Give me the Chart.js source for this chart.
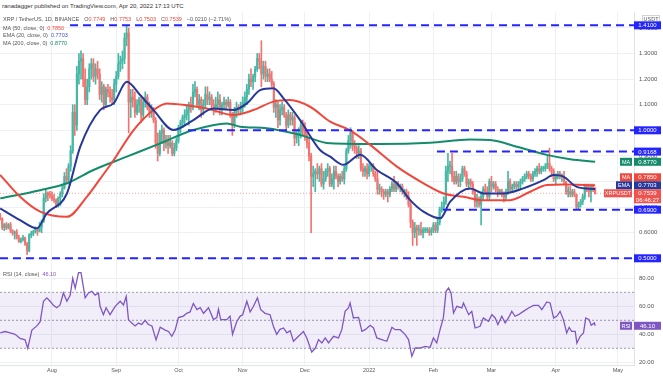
<!DOCTYPE html>
<html>
<head>
<meta charset="utf-8">
<title>XRP / TetherUS 1D</title>
<script src="https://cdn.jsdelivr.net/npm/chart.js@4.4.1/dist/chart.umd.min.js"></script>
<style>
  html, body { margin: 0; padding: 0; background: #fff; }
  body { width: 663px; height: 376px; position: relative; overflow: hidden; font-family: "Liberation Sans", Arial, sans-serif; }
  canvas { position: absolute; left: 0; }
  #priceChart { top: 12px; }
  #rsiChart { top: 266px; }
  .t { position: absolute; left: 3px; white-space: nowrap; height: 8px; line-height: 8px; color: #555; font-size: 5.5px; z-index: 2; }
  .t span.v { margin-left: 3px; }
  .t span.k { margin-left: 5px; color: #555; }
  .red { color: #f0473c; }
  .blue { color: #3b55c8; }
  .green { color: #148c6c; }
  .purple { color: #7e57c2; }
</style>
</head>
<body>
<div class="t" style="top:2px;left:2px;font-size:6px;color:#333">ranadagger published on TradingView.com, Apr 20, 2022 17:13 UTC</div>
<div class="t" style="top:15px">XRP / TetherUS, 1D, BINANCE<span class="k">O</span><span class="red">0.7749</span><span class="k">H</span><span class="red">0.7753</span><span class="k">L</span><span class="red">0.7503</span><span class="k">C</span><span class="red">0.7539</span><span class="k red">&minus;0.0210 (&minus;2.71%)</span></div>
<div class="t" style="top:23.5px">MA (50, close, 0)<span class="v red">0.7850</span></div>
<div class="t" style="top:31.3px">EMA (20, close, 0)<span class="v blue">0.7703</span></div>
<div class="t" style="top:39.3px">MA (200, close, 0)<span class="v green">0.8770</span></div>
<div class="t" style="top:270px">RSI (14, close)<span class="v purple">46.10</span></div>

<canvas id="priceChart" width="663" height="254"></canvas>
<canvas id="rsiChart" width="663" height="110"></canvas>

<script>
// day 0 = 2021-07-07, one candle per day up to 2022-04-20 (day 287)
const monthTicks = [25, 56, 86, 117, 147, 178, 209, 237, 268, 298];
const monthLabels = ["Aug", "Sep", "Oct", "Nov", "Dec", "2022", "Feb", "Mar", "Apr", "May"];
const priceTicks = [0.5, 0.6, 0.7, 0.8, 0.9, 1.0, 1.1, 1.2, 1.3, 1.4];
const rsiTicks = [20, 40, 60, 80];

const opens = [
  // Jul
  .668,.655,.620,.632,.618,.631,.607,.598,.603,.580,.566,.573,.580,.555,.530,.590,.598,.605,.614,.606,.622,.645,.735,.755,.748,
  // Aug
  .745,.732,.728,.710,.735,.752,.775,.820,.805,.86,.92,1.07,1.02,1.22,1.27,1.28,1.20,1.12,1.17,1.24,1.26,1.21,1.24,1.22,1.14,1.17,1.10,1.16,1.15,1.13,1.12,
  // Sep
  1.18,1.21,1.26,1.27,1.28,1.36,1.38,1.11,1.13,1.12,1.07,1.10,1.12,1.06,1.11,1.13,1.09,1.07,1.08,1.04,.95,.91,.99,1.00,.95,.96,.94,.95,.91,.93,
  // Oct
  .96,1.01,1.03,1.05,1.06,1.08,1.10,1.09,1.15,1.16,1.10,1.12,1.08,1.10,1.14,1.12,1.13,1.10,1.09,1.10,1.12,1.08,1.10,1.11,1.10,1.11,1.06,1.02,1.07,1.09,1.08,
  // Nov
  1.09,1.11,1.13,1.16,1.20,1.19,1.21,1.24,1.28,1.27,1.22,1.25,1.21,1.22,1.20,1.18,1.09,1.10,1.04,1.08,1.09,1.06,1.02,1.06,1.04,1.05,.97,.98,.99,1.02,
  // Dec
  1.00,.98,.95,.90,.82,.83,.84,.83,.85,.79,.81,.84,.85,.79,.81,.84,.82,.80,.82,.81,.85,.92,.96,.99,.94,.93,.91,.92,.85,.84,.85,
  // Jan
  .83,.86,.86,.83,.81,.77,.77,.76,.75,.76,.75,.77,.79,.77,.79,.78,.78,.76,.76,.74,.71,.64,.60,.62,.61,.61,.60,.61,.61,.61,.60,
  // Feb
  .61,.63,.61,.64,.69,.70,.72,.84,.86,.86,.82,.80,.82,.80,.81,.85,.83,.79,.80,.79,.76,.72,.73,.71,.74,.77,.76,.74,
  // Mar
  .80,.78,.79,.77,.76,.76,.75,.74,.76,.80,.77,.78,.79,.78,.79,.80,.81,.82,.83,.82,.81,.83,.84,.85,.84,.85,.85,.86,.87,.85,.84,
  // Apr
  .81,.82,.83,.82,.82,.80,.76,.76,.75,.76,.75,.70,.71,.72,.74,.78,.77,.76,.78,.7749
];
const highs = [
  .676,.658,.636,.640,.636,.640,.612,.607,.612,.590,.580,.590,.583,.562,.596,.606,.610,.623,.616,.640,.650,.752,.770,.760,.762,
  .760,.750,.732,.740,.760,.790,.835,.850,.870,.94,1.10,1.10,1.25,1.30,1.31,1.30,1.24,1.20,1.26,1.28,1.28,1.26,1.27,1.24,1.19,1.18,1.17,1.18,1.17,1.16,1.20,
  1.23,1.30,1.29,1.31,1.38,1.41,1.40,1.16,1.16,1.15,1.12,1.13,1.13,1.12,1.15,1.14,1.11,1.10,1.09,1.05,.99,1.00,1.02,1.01,.98,.98,.98,.96,.95,.97,
  1.02,1.04,1.06,1.08,1.10,1.11,1.13,1.18,1.19,1.17,1.14,1.13,1.12,1.17,1.17,1.15,1.14,1.12,1.13,1.15,1.14,1.11,1.13,1.12,1.13,1.12,1.07,1.09,1.11,1.10,1.11,
  1.13,1.15,1.18,1.22,1.24,1.22,1.25,1.30,1.30,1.35,1.27,1.27,1.24,1.24,1.23,1.19,1.12,1.11,1.10,1.11,1.10,1.07,1.08,1.07,1.07,1.06,1.00,1.01,1.04,1.04,
  1.03,1.00,.97,.91,.86,.85,.87,.86,.87,.84,.85,.87,.86,.83,.86,.86,.83,.83,.84,.86,.93,.98,1.01,1.00,.96,.94,.94,.93,.87,.86,.87,
  .87,.87,.87,.84,.84,.79,.78,.77,.77,.77,.78,.80,.82,.80,.80,.79,.79,.77,.77,.76,.72,.65,.64,.63,.63,.64,.62,.62,.62,.62,.62,
  .64,.64,.66,.70,.72,.74,.86,.91,.88,.91,.84,.84,.83,.83,.86,.86,.84,.81,.81,.80,.77,.75,.74,.76,.78,.79,.78,.81,
  .82,.80,.80,.78,.77,.77,.76,.77,.84,.81,.79,.80,.80,.80,.81,.82,.83,.84,.84,.83,.84,.85,.86,.87,.86,.86,.87,.90,.93,.86,.85,
  .83,.84,.84,.83,.84,.80,.78,.78,.77,.77,.75,.72,.73,.75,.79,.79,.79,.79,.79,.7753
];
const lows = [
  .650,.612,.608,.612,.615,.600,.590,.575,.575,.562,.560,.567,.550,.514,.525,.580,.588,.598,.590,.603,.600,.640,.720,.725,.735,
  .725,.718,.698,.700,.705,.740,.770,.790,.790,.84,.91,.98,1.00,1.18,1.20,1.17,1.10,1.10,1.15,1.20,1.19,1.18,1.20,1.12,1.11,1.08,1.09,1.13,1.11,1.10,1.10,
  1.15,1.20,1.23,1.24,1.26,1.33,.99,1.05,1.09,1.05,1.06,1.07,1.03,1.04,1.09,1.08,1.05,1.05,1.03,.93,.88,.90,.95,.92,.93,.91,.93,.90,.90,.92,
  .95,.99,1.01,1.02,1.04,1.02,1.07,1.08,1.13,1.09,1.08,1.05,1.06,1.09,1.10,1.10,1.08,1.06,1.07,1.08,1.06,1.06,1.08,1.08,1.09,1.05,.98,1.01,1.05,1.06,1.06,
  1.07,1.09,1.10,1.14,1.17,1.16,1.19,1.23,1.24,1.17,1.20,1.19,1.19,1.19,1.17,1.07,1.05,1.01,1.02,1.06,1.05,1.00,1.01,1.02,1.02,.94,.95,.94,.97,.98,
  .96,.93,.88,.60,.78,.76,.81,.80,.78,.77,.80,.82,.78,.78,.77,.81,.78,.79,.80,.79,.84,.91,.93,.92,.91,.89,.89,.84,.82,.82,.81,
  .82,.84,.82,.80,.75,.75,.74,.73,.74,.72,.74,.76,.76,.76,.77,.76,.75,.74,.73,.70,.62,.55,.58,.55,.59,.59,.58,.60,.60,.59,.59,
  .60,.60,.60,.63,.68,.69,.71,.80,.83,.80,.79,.79,.78,.78,.80,.82,.78,.77,.78,.75,.70,.70,.70,.63,.73,.75,.73,.73,
  .76,.77,.76,.74,.75,.74,.72,.73,.75,.76,.76,.77,.77,.77,.77,.79,.80,.81,.81,.80,.80,.82,.82,.83,.83,.84,.84,.85,.84,.82,.80,
  .79,.81,.81,.80,.79,.75,.74,.74,.74,.74,.69,.69,.70,.71,.73,.76,.74,.72,.76,.7503
];
const closes = [
  .655,.620,.632,.618,.631,.607,.598,.603,.580,.566,.573,.580,.555,.530,.590,.598,.605,.614,.606,.622,.645,.735,.755,.748,.745,
  .732,.728,.710,.735,.752,.775,.820,.805,.86,.92,1.07,1.02,1.22,1.27,1.28,1.20,1.12,1.17,1.24,1.26,1.21,1.24,1.22,1.14,1.17,1.10,1.16,1.15,1.13,1.12,1.18,
  1.21,1.26,1.27,1.28,1.36,1.38,1.11,1.13,1.12,1.07,1.10,1.12,1.06,1.11,1.13,1.09,1.07,1.08,1.04,.95,.91,.99,1.00,.95,.96,.94,.95,.91,.93,.96,
  1.01,1.03,1.05,1.06,1.08,1.10,1.09,1.15,1.16,1.10,1.12,1.08,1.10,1.14,1.12,1.13,1.10,1.09,1.10,1.12,1.08,1.10,1.11,1.10,1.11,1.06,1.02,1.07,1.09,1.08,1.09,
  1.11,1.13,1.16,1.20,1.19,1.21,1.24,1.28,1.27,1.22,1.25,1.21,1.22,1.20,1.18,1.09,1.10,1.04,1.08,1.09,1.06,1.02,1.06,1.04,1.05,.97,.98,.99,1.02,1.00,
  .98,.95,.90,.82,.83,.84,.83,.85,.79,.81,.84,.85,.79,.81,.84,.82,.80,.82,.81,.85,.92,.96,.99,.94,.93,.91,.92,.85,.84,.85,.83,
  .86,.86,.83,.81,.77,.77,.76,.75,.76,.75,.77,.79,.77,.79,.78,.78,.76,.76,.74,.71,.64,.60,.62,.61,.61,.60,.61,.61,.61,.60,.61,
  .63,.61,.64,.69,.70,.72,.84,.86,.86,.82,.80,.82,.80,.81,.85,.83,.79,.80,.79,.76,.72,.73,.71,.74,.77,.76,.74,.80,
  .78,.79,.77,.76,.76,.75,.74,.76,.80,.77,.78,.79,.78,.79,.80,.81,.82,.83,.82,.81,.83,.84,.85,.84,.85,.85,.86,.87,.85,.84,.81,
  .82,.83,.82,.82,.80,.76,.76,.75,.76,.75,.70,.71,.72,.74,.78,.77,.76,.78,.7749,.7539
];

// indicator lines (day, value)
const ema20Days = [0,9.6,17.7,22.5,32.2,38.6,48.2,54.7,61.1,67.5,74,83.6,93.2,102.9,112.5,119,125.4,131.8,136.7,144.7,154.3,159.2,165.6,173.7,181.7,191.4,197.8,204.2,212.3,217.1,226.7,233.2,242.8,252.4,262.1,266.9,271.7,278.2,287];
const ema20Vals = [0.695,0.649,0.617,0.675,0.753,0.935,1.079,1.105,1.19,1.138,1.079,1.001,1.04,1.085,1.079,1.105,1.157,1.164,1.125,1.04,0.923,0.897,0.865,0.904,0.845,0.793,0.727,0.682,0.656,0.721,0.773,0.753,0.753,0.773,0.805,0.825,0.819,0.779,0.7703];
const ma50Days = [0,9.6,19.3,32.2,41.8,48.2,54.7,64.3,74,80.4,90,99.7,112.5,122.2,131.8,139.9,149.5,159.2,168.8,178.5,191.4,204.2,213.9,223.5,233.2,246,255.7,263.7,271.7,287];
const ma50Vals = [0.826,0.74,0.682,0.662,0.74,0.81,0.883,1.0,1.079,1.105,1.098,1.085,1.06,1.079,1.112,1.118,1.092,1.034,1.0,0.943,0.858,0.793,0.753,0.74,0.727,0.727,0.76,0.786,0.788,0.785];
const ma200Days = [0,19.3,32.2,45,61.1,77.2,93.2,109.3,115.8,128.6,144.7,159.2,183.3,207.4,226.7,236.4,249.2,263.7,275,287];
const ma200Vals = [0.734,0.766,0.793,0.845,0.897,0.949,1.001,1.027,1.014,1.008,0.982,0.949,0.946,0.951,0.964,0.962,0.936,0.904,0.887,0.877];

// horizontal levels drawn by the author
const levelPrices = [1.41, 1.0, 0.9168, 0.69, 0.5];
const levelStartDays = [33.7, 90.6, 210.7, 213.6, -0.1];

const rsiDays = [0,2.4,4.8,7.2,9.6,12,13.3,15.3,17.7,19.3,20.9,22.5,24.1,25.7,27.3,28.9,30.5,32.2,33.8,35,36.2,37.8,39,41,42.6,44.2,45.8,47.4,48.2,49.8,51.1,53,55.5,57.9,59.5,60.8,61.9,63.5,65.1,66.7,68.3,69.9,71.5,73.2,75.2,77.2,79.6,81.2,82.8,84.4,86,88.4,90,91.6,93.2,94.9,96.5,98.1,100.5,102.9,104.5,105.3,106.4,109.3,110.9,112.1,114.1,115.8,117,119,120.6,122.2,124.1,125.7,127.8,130.2,131.8,133.4,135,136.7,138.3,139.9,141.5,143.9,146.3,147.9,150.3,152,153.6,155.2,156.8,158.4,160.8,163.2,164.8,166.4,168,168.8,170.4,172.9,174.5,176.1,178.5,180.1,181.7,184.1,186.5,189,190.5,193,195.4,197,198.6,200.2,202.6,205,207.4,209,210.6,212.2,213.8,215.1,216.3,217.5,218.7,220.3,222.7,223.5,226,227.5,229.1,231.5,233.1,235.6,237.2,238.8,240.1,242,243.6,245.2,246.8,248.4,250,252.4,254.9,257.3,259.7,261.3,263.7,265.3,267,268.5,270.1,271.7,273.3,274.5,275.7,277.4,278.2,279.8,281.4,282.5,284.1,285.1,286.7,287];
const rsiVals = [41,42,41,40,37,36,30,43,46,49,63.6,66,63.6,60.7,59,61,69.5,63.6,68,80,73,84,84,66,69.5,70.7,68,69.5,60,54,59,54,60,63.6,61,67,50.5,48,46,48,47,50,47,46,36,45,43,42,38.6,43,52,53,55,56,62,57.6,59,55,59,50.5,52,58,50.5,50.5,53,40,49,53,54,63.6,56,60,66,57.6,55,54,45.7,40,43.5,44.5,41,42.6,35,38.6,42,37.4,27.4,30,36.2,33.8,37.4,33.8,38.6,37.4,43.3,56.4,58.8,62.4,51.7,52.1,42.1,43.3,46.4,44.5,37.4,36.2,35,45,43.3,43.3,39.8,36.2,24.3,30.2,30.2,31.4,30.7,37.4,33.8,43.3,51.7,70.7,73.1,69.5,55.2,60,58.8,62.4,54,56.4,44.5,45.7,51.7,49.3,54,51.7,46.9,52.9,48.1,51.7,56.4,52.9,54,56.4,58.8,60.7,60.7,57.6,63.1,62.4,51.7,52.9,56.4,50.5,41,45,42.1,42.1,33.8,38.6,41,51.7,50.5,46.4,48.1,46.1];
const rsiLevels = [70, 50, 30];

// ---------------------------------------------------------------
const X_MIN = -0.08, X_MAX = 305.76;
const GREEN = '#45b8a6', RED = '#f27471', LEVEL_BLUE = '#2424ff';
const GRID = '#eef0f4', AXIS_TEXT = '#555';
const FONT = '"Liberation Sans", Arial, sans-serif';

Chart.defaults.font.family = FONT;
Chart.defaults.animation = false;

const pts = (days, vals) => days.map((d, i) => ({ x: d, y: vals[i] }));
const candleColors = closes.map((c, i) => c >= opens[i] ? GREEN : RED);
const lastClose = closes[closes.length - 1];

function noPad(s) { s.paddingTop = 0; s.paddingBottom = 0; s.paddingLeft = 0; s.paddingRight = 0; }

function box(ctx, x, y, w, h, bg, text, fg) {
  ctx.fillStyle = bg;
  ctx.fillRect(x, y - h / 2, w, h);
  ctx.fillStyle = fg || '#fff';
  ctx.fillText(text, x + w / 2, y + 0.5);
}

const priceAxisBoxes = {
  id: 'priceAxisBoxes',
  afterDraw(chart) {
    const { ctx } = chart;
    const ys = chart.scales.y;
    const x0 = ys.left;
    ctx.save();
    ctx.textAlign = 'center';
    ctx.textBaseline = 'middle';
    ctx.font = '5.5px ' + FONT;

    // currency tag
    ctx.fillStyle = '#fff';
    ctx.strokeStyle = '#cfd2da';
    ctx.lineWidth = 1;
    ctx.fillRect(x0 + 8.5, 3.5, 17, 7);
    ctx.strokeRect(x0 + 8.5, 3.5, 17, 7);
    ctx.fillStyle = AXIS_TEXT;
    ctx.fillText('USDT', x0 + 17, 7.3);

    ctx.font = '6px ' + FONT;
    levelPrices.forEach(p => box(ctx, x0, ys.getPixelForValue(p), 27, 8, LEVEL_BLUE, p.toFixed(4)));

    const ema = ema20Vals[ema20Vals.length - 1];
    const ma50 = ma50Vals[ma50Vals.length - 1];
    const ma200 = ma200Vals[ma200Vals.length - 1];
    const pY = ys.getPixelForValue(lastClose);
    const emaY = Math.min(ys.getPixelForValue(ema), pY - 8);
    const ma50Y = Math.min(ys.getPixelForValue(ma50), emaY - 8);
    const ma200Y = Math.min(ys.getPixelForValue(ma200), ma50Y - 8);

    box(ctx, x0, ma200Y, 27, 8, '#148c6c', ma200.toFixed(4));
    box(ctx, x0, ma50Y, 27, 8, '#f0473c', ma50.toFixed(4));
    box(ctx, x0, emaY, 27, 8, '#27379a', ema.toFixed(4));
    ctx.fillStyle = '#ef5350';
    ctx.fillRect(x0, pY - 4, 27, 14);
    ctx.fillStyle = '#fff';
    ctx.fillText(lastClose.toFixed(4), x0 + 13.5, pY + 0.5);
    ctx.fillText('06:46:27', x0 + 13.5, pY + 6.8);

    ctx.font = '5.5px ' + FONT;
    box(ctx, x0 - 14, ma200Y, 12, 8, '#148c6c', 'MA');
    box(ctx, x0 - 14, ma50Y, 12, 8, '#f0473c', 'MA');
    box(ctx, x0 - 18, emaY, 16, 8, '#27379a', 'EMA');
    box(ctx, x0 - 30, pY, 28, 8, '#ef5350', 'XRPUSDT');
    ctx.restore();
  }
};

const rsiAxisBoxes = {
  id: 'rsiAxisBoxes',
  afterDraw(chart) {
    const { ctx } = chart;
    const ys = chart.scales.y;
    const x0 = ys.left;
    const v = rsiVals[rsiVals.length - 1];
    const py = ys.getPixelForValue(v);
    ctx.save();
    ctx.textAlign = 'center';
    ctx.textBaseline = 'middle';
    ctx.font = '6px ' + FONT;
    box(ctx, x0, py, 27, 8, '#7e57c2', v.toFixed(2));
    ctx.font = '5.5px ' + FONT;
    box(ctx, x0 - 14, py, 12, 8, '#7e57c2', 'RSI');
    ctx.restore();
  }
};

const xScaleBase = {
  type: 'linear',
  min: X_MIN,
  max: X_MAX,
  offset: false,
  afterBuildTicks: s => { s.ticks = monthTicks.map(v => ({ value: v })); },
  grid: { color: GRID, drawTicks: false, offset: false },
  border: { color: '#e0e3eb' }
};

// ---------- price pane ----------
const levelDatasets = levelPrices.map((p, i) => ({
  type: 'line',
  data: [{ x: levelStartDays[i], y: p }, { x: X_MAX, y: p }],
  borderColor: LEVEL_BLUE,
  borderWidth: 2,
  borderDash: [8, 5],
  pointRadius: 0,
  order: 1
}));

new Chart(document.getElementById('priceChart'), {
  type: 'bar',
  data: {
    datasets: [
      {
        type: 'bar',
        data: closes.map((_, i) => ({ x: i, y: [lows[i], highs[i]] })),
        backgroundColor: candleColors,
        barThickness: 1,
        grouped: false,
        order: 10
      },
      {
        type: 'bar',
        data: closes.map((c, i) => ({ x: i, y: [opens[i], c] })),
        backgroundColor: candleColors,
        barThickness: 1.5,
        minBarLength: 1,
        grouped: false,
        order: 9
      },
      {
        type: 'line',
        data: [{ x: X_MIN, y: lastClose }, { x: X_MAX, y: lastClose }],
        borderColor: 'rgba(239,83,80,0.55)',
        borderWidth: 1,
        borderDash: [1, 2],
        pointRadius: 0,
        order: 8
      },
      {
        type: 'line',
        data: pts(ma200Days, ma200Vals),
        borderColor: '#148c6c',
        borderWidth: 2,
        pointRadius: 0,
        cubicInterpolationMode: 'monotone',
        order: 4
      },
      {
        type: 'line',
        data: pts(ma50Days, ma50Vals),
        borderColor: '#f0473c',
        borderWidth: 2,
        pointRadius: 0,
        cubicInterpolationMode: 'monotone',
        order: 3
      },
      {
        type: 'line',
        data: pts(ema20Days, ema20Vals),
        borderColor: '#27379a',
        borderWidth: 2,
        pointRadius: 0,
        cubicInterpolationMode: 'monotone',
        order: 2
      },
      ...levelDatasets
    ]
  },
  options: {
    responsive: false,
    devicePixelRatio: 1,
    events: [],
    layout: { padding: 0 },
    plugins: { legend: { display: false }, tooltip: { enabled: false } },
    scales: {
      x: Object.assign({}, xScaleBase, {
        ticks: { display: false },
        afterFit: s => { s.height = 0; noPad(s); }
      }),
      y: {
        type: 'linear',
        position: 'right',
        min: 0.4699,
        max: 1.4621,
        beginAtZero: false,
        afterBuildTicks: s => { s.ticks = priceTicks.map(v => ({ value: v })); },
        afterFit: s => { s.width = 29; noPad(s); },
        grid: { color: GRID, drawTicks: false },
        border: { color: '#e0e3eb' },
        ticks: {
          padding: 5,
          color: AXIS_TEXT,
          font: { size: 6 },
          callback: v => v.toFixed(4)
        }
      }
    }
  },
  plugins: [priceAxisBoxes]
});

// ---------- RSI pane ----------
const rsiLevelDatasets = rsiLevels.map((lv, i) => ({
  data: [{ x: X_MIN, y: lv }, { x: X_MAX, y: lv }],
  borderColor: '#9a9ca6',
  borderWidth: 1,
  borderDash: [2, 2],
  pointRadius: 0,
  fill: i === 0 ? { value: rsiLevels[rsiLevels.length - 1] } : false,
  backgroundColor: 'rgba(126,87,194,0.1)',
  order: 5
}));

new Chart(document.getElementById('rsiChart'), {
  type: 'line',
  data: {
    datasets: [
      {
        data: pts(rsiDays, rsiVals),
        borderColor: '#7e57c2',
        borderWidth: 1.3,
        pointRadius: 0,
        fill: false,
        order: 1
      },
      ...rsiLevelDatasets
    ]
  },
  options: {
    responsive: false,
    devicePixelRatio: 1,
    events: [],
    layout: { padding: 0 },
    plugins: { legend: { display: false }, tooltip: { enabled: false } },
    scales: {
      x: Object.assign({}, xScaleBase, {
        afterFit: s => { s.height = 11; noPad(s); },
        ticks: {
          autoSkip: false,
          maxRotation: 0,
          padding: 2,
          color: AXIS_TEXT,
          font: { size: 5.5 },
          callback: (v, i) => monthLabels[i]
        }
      }),
      y: {
        type: 'linear',
        position: 'right',
        min: 18.07,
        max: 88.79,
        afterBuildTicks: s => { s.ticks = rsiTicks.map(v => ({ value: v })); },
        afterFit: s => { s.width = 29; noPad(s); },
        grid: { color: GRID, drawTicks: false },
        border: { color: '#e0e3eb' },
        ticks: {
          padding: 5,
          color: AXIS_TEXT,
          font: { size: 6 },
          callback: v => v.toFixed(2)
        }
      }
    }
  },
  plugins: [rsiAxisBoxes]
});
</script>
</body>
</html>
